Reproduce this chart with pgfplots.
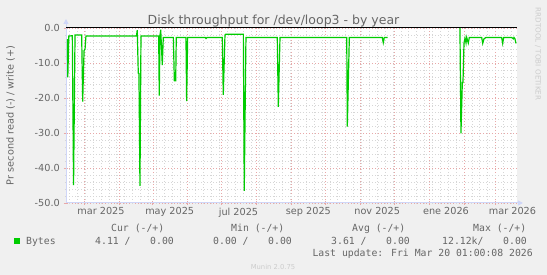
\documentclass[border=0pt]{standalone}
\usepackage{fontspec}
\setmainfont{DejaVu Sans}
\newfontfamily\monofont{DejaVu Sans Mono}
\usepackage{pgfplots}
\pgfplotsset{compat=1.18}
\usetikzlibrary{arrows.meta}
\definecolor{bgc}{HTML}{F0F0F0}
\definecolor{fontc}{HTML}{666666}
\definecolor{axisc}{HTML}{CFD6F8}
\definecolor{mgridc}{HTML}{E8A8A8}
\definecolor{gridc}{HTML}{D6D6D6}
\definecolor{linec}{HTML}{00CC00}
\definecolor{wmark}{HTML}{CCCCCC}
\begin{document}
\begin{tikzpicture}
\useasboundingbox (0,0) rectangle (547pt,275pt);
\fill[bgc] (0,0) rectangle (547pt,275pt);
\begin{axis}[
  at={(66pt,72pt)}, anchor=south west,
  scale only axis, width=451pt, height=175pt,
  xmin=0, xmax=400, ymin=-50, ymax=0,
  clip=false,
  axis background/.style={fill=white},
  axis lines=left,
  x axis line style={draw=axisc, line width=1pt, shorten >=-6pt, -{Triangle[length=5pt,width=5pt]}},
  y axis line style={draw=axisc, line width=1pt, shorten >=-9pt, -{Triangle[length=5pt,width=5pt]}},
  xtick={16,47,77,108,138,169,200,230,261,291,322,353,381},
  xticklabels={},
  extra x ticks={31,92,153,215,276,337,396},
  extra x tick labels={mar 2025,may 2025,jul 2025,sep 2025,nov 2025,ene 2026,mar 2026},
  extra x tick style={grid=none, major tick length=0pt},
  minor xtick={3,10,...,400},
  ytick={-50,-40,-30,-20,-10,0},
  yticklabels={-50.0,-40.0,-30.0,-20.0,-10.0,0.0},
  minor ytick={-48,-46,...,-2},
  grid=both,
  major grid style={draw=mgridc, line width=0.6pt, dash pattern=on 1pt off 2pt},
  minor grid style={draw=gridc, line width=0.6pt, dash pattern=on 1pt off 2pt},
  tick align=center,
  major tick length=4pt, minor tick length=2pt,
  major tick style={draw=mgridc, line width=0.8pt},
  minor tick style={draw=gridc, line width=0.8pt},
  ticklabel style={font=\fontsize{9.7}{11}\selectfont, text=fontc},
  xticklabel style={anchor=north, inner sep=0pt, yshift=-4.5pt},
  yticklabel style={anchor=east, inner sep=0pt, xshift=-4pt},
  unbounded coords=jump,
]
\addplot[black, line width=1pt] coordinates {(0,0) (400,0)};
\addplot[linec, line width=1.2pt] coordinates {
(1.2,-3.2) (1.6,-14.1) (2.5,-2.3) (5.6,-2.2) (6.7,-44.9) (8.0,-2.0) (13.9,-2.0)
(14.8,-21.0) (16.0,-6.5) (16.9,-6.0) (17.7,-2.3) (62.5,-2.3) (63.2,-0.6)
(64.1,-12.9) (64.7,-13.0) (65.6,-45.1) (66.5,-2.3) (82.2,-2.3) (82.7,-19.3)
(83.4,-2.0) (84.0,-0.5) (85.4,-10.6) (86.3,-2.7) (95.2,-2.7) (96.1,-15.1)
(97.3,-15.1) (97.8,-2.7) (106.4,-2.7) (107.0,-20.9) (107.9,-2.7) (123.5,-2.7)
(124.2,-3.0) (125,-2.7) (138.6,-2.7) (139.5,-19.1) (141.0,-2.0) (141.6,-1.8)
(157.3,-1.8) (158.1,-46.5) (159.6,-2.7) (187.4,-2.7) (188.3,-22.5) (189.8,-2.7)
(249.0,-2.7) (249.5,-28.2) (251.3,-2.7) (280.5,-2.7) (281.4,-4.2) (282.3,-2.7)
(285.3,-2.7)
(286,nan)
(349.4,0) (350.3,-30.1) (351.5,-15.6) (352.1,-15.6) (353.0,-4.3) (353.9,-2.9)
(354.8,-4.3) (355.4,-2.7) (356.8,-4.3) (357.7,-2.7) (368.7,-2.7) (369.6,-4.4)
(370.7,-3.1) (372.5,-2.7) (386.4,-2.7) (387.3,-4.4) (388.2,-2.7) (395.3,-2.7)
(396.7,-3.1) (397.3,-2.7) (398.2,-3.1) (399.1,-4.4)
};
\end{axis}
% title
\node[anchor=base, inner sep=0pt, text=fontc, font=\fontsize{12.5}{14}\selectfont] at (273.5pt,250.6pt) {Disk throughput for /dev/loop3 - by year};
% y label
\node[rotate=90, inner sep=0pt, text=fontc, font=\fontsize{9.7}{11}\selectfont] at (10.5pt,159.5pt) {Pr second read (-) / write (+)};
% watermark
\node[rotate=-90, inner sep=0pt, text=wmark, font=\fontsize{7.2}{8}\selectfont] at (538pt,221pt) {RRDTOOL / TOBI OETIKER};
% legend
\fill[linec] (14pt,30.5pt) rectangle (19.5pt,37pt);
\begin{scope}[every node/.style={anchor=base west, inner sep=0pt, text=fontc, font=\monofont\fontsize{9.8}{11}\selectfont}]
\node at (111pt,43.6pt) {Cur (-/+)};
\node at (231pt,43.6pt) {Min (-/+)};
\node at (352pt,43.6pt) {Avg (-/+)};
\node at (473pt,43.6pt) {Max (-/+)};
\node at (26pt,30.3pt) {Bytes};
\node at (95pt,30.3pt) {4.11 /};
\node at (150pt,30.3pt) {0.00};
\node at (213pt,30.3pt) {0.00 /};
\node at (268pt,30.3pt) {0.00};
\node at (331pt,30.3pt) {3.61 /};
\node at (386pt,30.3pt) {0.00};
\node at (442pt,30.3pt) {12.12k/};
\node at (503pt,30.3pt) {0.00};
\node[anchor=base east] at (533pt,18.1pt) {Last update: Fri Mar 20 01:00:08 2026};
\end{scope}
\node[anchor=base, inner sep=0pt, text=wmark, font=\fontsize{6.8}{8}\selectfont] at (273pt,5.9pt) {Munin 2.0.75};
\end{tikzpicture}
\end{document}
